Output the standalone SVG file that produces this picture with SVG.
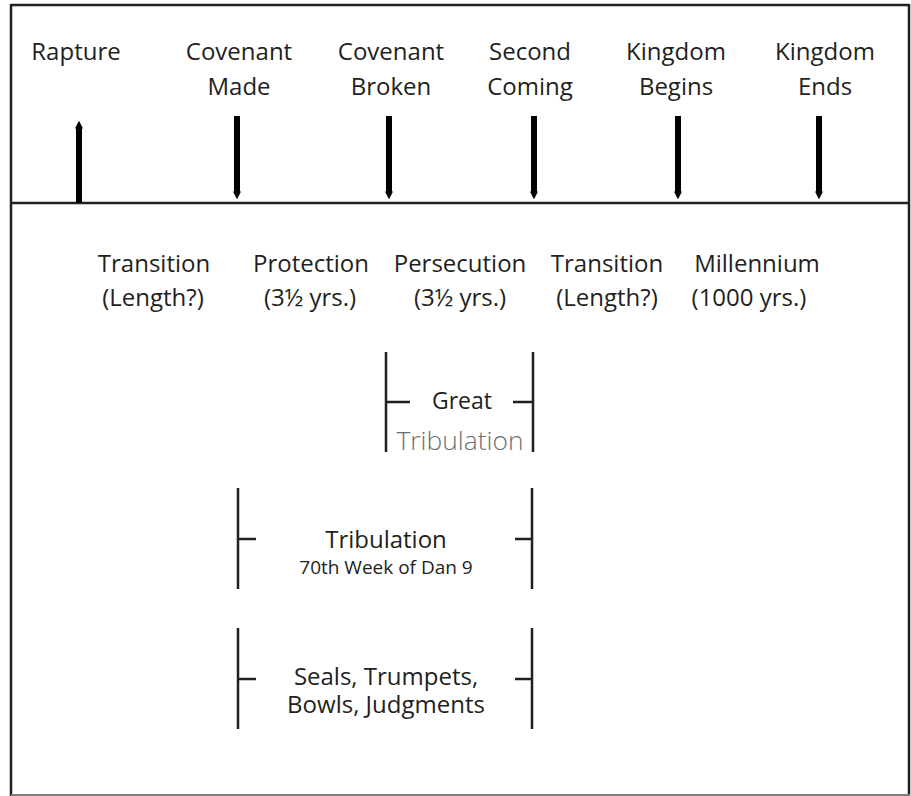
<svg xmlns="http://www.w3.org/2000/svg" width="911" height="796" viewBox="0 0 911 796">
<style>
  text { font-family: "Open Sans", "Liberation Sans", sans-serif; fill: #231f20; text-anchor: middle; }
  .lbl { font-size: 24px; }
  .sm { font-size: 19px; }
  .great { font-size: 23px; font-weight: 500; }
  .gt { font-size: 26px; font-weight: 300; fill: #6d6e71; }
  .frame { fill: none; stroke: #231f20; stroke-width: 2.5; }
  .br { stroke: #231f20; stroke-width: 2.5; fill: none; }
  .arr { stroke: #000; stroke-width: 6; fill: none; }
</style>
<defs>
  <marker id="head" viewBox="0 0 10 10" refX="2" refY="5" markerUnits="userSpaceOnUse" markerWidth="8" markerHeight="16" orient="auto">
    <path d="M0,0 L10,5 L0,10 Z" fill="#000"/>
  </marker>
</defs>
<rect width="911" height="796" fill="#fff"/>
<g id="frame">
  <line class="frame" x1="11" y1="5" x2="909" y2="5"/>
  <line class="frame" x1="11" y1="4" x2="11" y2="796"/>
  <line class="frame" x1="909" y1="4" x2="909" y2="796"/>
  <line x1="11" y1="795" x2="910" y2="795" stroke="#808080" stroke-width="2"/>
  <line class="frame" x1="11" y1="203" x2="909" y2="203"/>
</g>
<g id="connectors">
  <line class="arr" x1="79" y1="203" x2="79" y2="127" marker-end="url(#head)"/>
  <line class="arr" x1="237" y1="116" x2="237" y2="193" marker-end="url(#head)"/>
  <line class="arr" x1="389" y1="116" x2="389" y2="193" marker-end="url(#head)"/>
  <line class="arr" x1="534" y1="116" x2="534" y2="193" marker-end="url(#head)"/>
  <line class="arr" x1="678" y1="116" x2="678" y2="193" marker-end="url(#head)"/>
  <line class="arr" x1="819" y1="116" x2="819" y2="193" marker-end="url(#head)"/>
</g>
<g id="rapture"><text class="lbl" x="76" y="60">Rapture</text></g>
<g id="covenant-made"><text class="lbl" x="239" y="60">Covenant</text><text class="lbl" x="239" y="95">Made</text></g>
<g id="covenant-broken"><text class="lbl" x="391" y="60">Covenant</text><text class="lbl" x="391" y="95">Broken</text></g>
<g id="second-coming"><text class="lbl" x="530" y="60">Second</text><text class="lbl" x="530" y="95">Coming</text></g>
<g id="kingdom-begins"><text class="lbl" x="676" y="60">Kingdom</text><text class="lbl" x="676" y="95">Begins</text></g>
<g id="kingdom-ends"><text class="lbl" x="825" y="60">Kingdom</text><text class="lbl" x="825" y="95">Ends</text></g>
<g id="transition1"><text class="lbl" x="154" y="272">Transition</text><text class="lbl" x="153" y="306">(Length?)</text></g>
<g id="protection"><text class="lbl" x="311" y="272">Protection</text><text class="lbl" x="310" y="306">(3½ yrs.)</text></g>
<g id="persecution"><text class="lbl" x="460" y="272">Persecution</text><text class="lbl" x="460" y="306">(3½ yrs.)</text></g>
<g id="transition2"><text class="lbl" x="607" y="272">Transition</text><text class="lbl" x="607" y="306">(Length?)</text></g>
<g id="millennium"><text class="lbl" x="757" y="272">Millennium</text><text class="lbl" x="749" y="306">(1000 yrs.)</text></g>
<g id="great-tribulation">
  <path class="br" d="M386,352 V452 M386,402 H410 M533,352 V452 M533,402 H513"/>
  <text class="great" x="462" y="409">Great</text>
  <text class="gt" x="460" y="450" textLength="127" lengthAdjust="spacingAndGlyphs">Tribulation</text>
</g>
<g id="tribulation">
  <path class="br" d="M238,488 V589 M238,539 H256 M532,488 V589 M532,539 H515"/>
  <text class="lbl" x="386" y="548">Tribulation</text>
  <text class="sm" x="386" y="574">70th Week of Dan 9</text>
</g>
<g id="judgments">
  <path class="br" d="M238,628 V729 M238,679 H256 M532,628 V729 M532,679 H515"/>
  <text class="lbl" x="386" y="685">Seals, Trumpets,</text>
  <text class="lbl" x="386" y="713">Bowls, Judgments</text>
</g>
</svg>
